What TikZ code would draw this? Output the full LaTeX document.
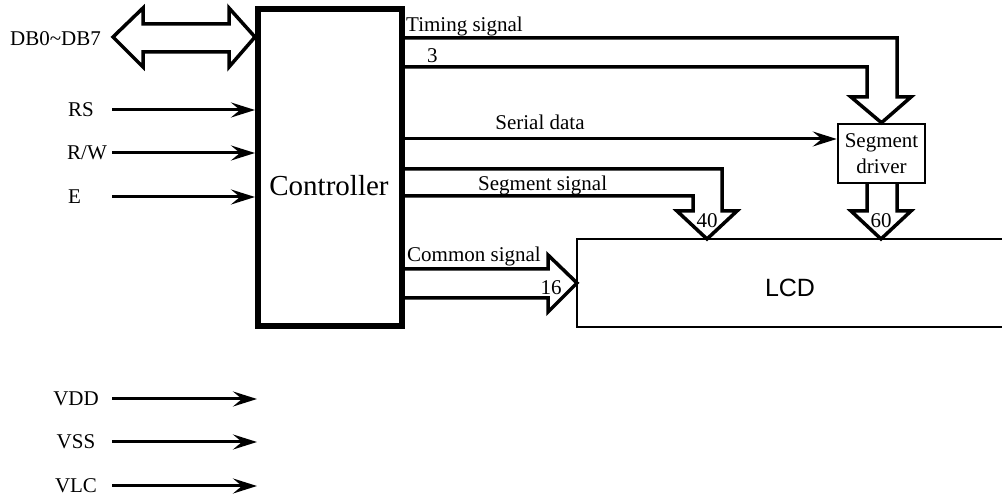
\documentclass[tikz,border=0pt]{standalone}
\usepackage{fontspec}
\setmainfont{Liberation Serif}
\newfontfamily\lcdfont{Liberation Sans}
\usetikzlibrary{arrows.meta}

\tikzset{
	sig/.style={line width=3pt,-{Stealth[length=24pt,width=15pt,inset=9pt]}},
	bus/.style={line width=3.5pt,line join=miter},
	lbl/.style={font=\fontsize{21}{26}\selectfont,inner sep=0pt},
}

\begin{document}
\begin{tikzpicture}[x=1pt,y=-1pt]
	\useasboundingbox (0,0) rectangle (1002,502);

	\node[draw,line width=6pt,minimum width=144pt,minimum height=317pt] (ctrl) at (330,168) {};
	\node[lbl,font=\fontsize{29}{32}\selectfont,anchor=base] (ctrltxt) at (329,196) {Controller};
	\node[draw,lbl,line width=2.5pt,minimum width=87pt,minimum height=59pt,align=center] (drv) at (881.5,153.5) {Segment\\driver};
	\coordinate (lcdnw) at (577,239);
	\draw[line width=2.5pt] (1002,239) -- (lcdnw) -- (577,327) -- (1002,327);
	\node[lbl,font=\lcdfont\fontsize{25}{28}\selectfont] (lcd) at (790,288) {LCD};

	\draw[bus] (113,37) -- (143,8) -- (143,24) -- (229,24) -- (229,8) -- (ctrl.west |- 0,37) -- (229,67) -- (229,52) -- (143,52) -- (143,67) -- cycle;
	\node[lbl,anchor=base east] (db) at (101,46) {DB0\textasciitilde DB7};

	\node[lbl,anchor=base west] (rs) at (68,117) {RS};
	\coordinate (rsin) at (112,110);
	\draw[sig] (rsin) -- (rsin -| ctrl.west);
	\node[lbl,anchor=base west] (rw) at (67,160) {R/W};
	\coordinate (rwin) at (112,153);
	\draw[sig] (rwin) -- (rwin -| ctrl.west);
	\node[lbl,anchor=base west] (e) at (68,204) {E};
	\coordinate (ein) at (112,197);
	\draw[sig] (ein) -- (ein -| ctrl.west);

	\node[lbl,anchor=base] (vdd) at (76,406) {VDD};
	\coordinate (vddin) at (112,399);
	\coordinate (vddout) at (257,399);
	\draw[sig] (vddin) -- (vddout);
	\node[lbl,anchor=base] (vss) at (76,449) {VSS};
	\coordinate (vssin) at (112,442);
	\coordinate (vssout) at (257,442);
	\draw[sig] (vssin) -- (vssout);
	\node[lbl,anchor=base] (vlc) at (76,493) {VLC};
	\coordinate (vlcin) at (112,486);
	\coordinate (vlcout) at (257,486);
	\draw[sig] (vlcin) -- (vlcout);

	\draw[bus] (ctrl.east |- 0,38) -- (897,38) -- (897,97) -- (911,97) -- (drv.north) -- (851,97) -- (867,97) -- (867,67) -- (ctrl.east |- 0,67);
	\node[lbl,anchor=base west] (timing) at (406,32) {Timing signal};
	\node[lbl,anchor=base west] (n3) at (427,63) {3};

	\draw[sig] (ctrl.east |- 0,139) -- (drv.west |- 0,139);
	\node[lbl,anchor=base] (serial) at (540,130) {Serial data};

	\draw[bus] (ctrl.east |- 0,169) -- (722,169) -- (722,211) -- (737,211) -- (707,0 |- lcdnw) -- (677,211) -- (693,211) -- (693,196) -- (ctrl.east |- 0,196);
	\node[lbl,anchor=base west] (segsig) at (478,191) {Segment signal};
	\node[lbl,anchor=base] (n40) at (707,228) {40};

	\draw[bus] (867,0 |- drv.south) -- (867,211) -- (851,211) -- (881,0 |- lcdnw) -- (911,211) -- (897,211) -- (897,0 |- drv.south);
	\node[lbl,anchor=base] (n60) at (881,228) {60};

	\draw[bus] (ctrl.east |- 0,269) -- (548,269) -- (548,255) -- (lcdnw |- 0,283) -- (548,312) -- (548,298) -- (ctrl.east |- 0,298);
	\node[lbl,anchor=base west] (common) at (407,262) {Common signal};
	\node[lbl,anchor=base] (n16) at (551,295) {16};
\end{tikzpicture}
\end{document}
